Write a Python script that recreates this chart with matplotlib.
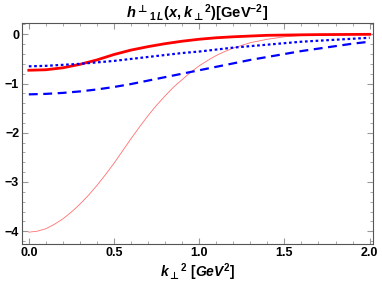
import numpy as np
import matplotlib
matplotlib.use('Agg')
import matplotlib.pyplot as plt
from matplotlib.ticker import MultipleLocator

plt.rcParams['font.family'] = ['Liberation Sans', 'DejaVu Sans']
plt.rcParams['font.weight'] = 'bold'
plt.rcParams['mathtext.fontset'] = 'custom'
plt.rcParams['mathtext.rm'] = 'Liberation Sans:bold'
plt.rcParams['mathtext.it'] = 'Liberation Sans:bold:italic'
plt.rcParams['mathtext.bf'] = 'Liberation Sans:bold'
plt.rcParams['mathtext.sf'] = 'DejaVu Sans:bold'

# k_perp^2 sample points [GeV^2]
k2 = [0.0, 0.1, 0.2, 0.3, 0.4, 0.5, 0.6, 0.7, 0.8, 0.9, 1.0, 1.1, 1.2, 1.3,
      1.4, 1.5, 1.6, 1.7, 1.8, 1.9, 2.0]

# thick red solid
red_thick = [-0.73, -0.72, -0.68, -0.61, -0.52, -0.41, -0.32, -0.25, -0.19, -0.14,
             -0.10, -0.07, -0.05, -0.035, -0.02, -0.015, -0.01, -0.006, -0.004, -0.002, 0.0]
# blue dotted
blue_dot = [-0.65, -0.64, -0.62, -0.60, -0.57, -0.54, -0.50, -0.46, -0.42, -0.38,
            -0.35, -0.31, -0.27, -0.24, -0.21, -0.18, -0.15, -0.13, -0.11, -0.09, -0.07]
# blue dashed
blue_dash = [-1.22, -1.21, -1.19, -1.16, -1.12, -1.07, -1.01, -0.94, -0.87, -0.80,
             -0.73, -0.66, -0.59, -0.52, -0.46, -0.40, -0.34, -0.29, -0.24, -0.19, -0.15]

# thin red solid (steep, read on a finer grid)
k2_thin = [0.0, 0.05, 0.1, 0.15, 0.2, 0.25, 0.3, 0.35, 0.4, 0.45, 0.5, 0.55, 0.6, 0.65,
           0.7, 0.75, 0.8, 0.85, 0.9, 0.95, 1.0, 1.05, 1.1, 1.15, 1.2, 1.3, 1.4, 1.5,
           1.6, 1.8, 2.0]
red_thin = [-4.02, -4.00, -3.95, -3.86, -3.75, -3.61, -3.45, -3.27, -3.07, -2.85, -2.62,
            -2.37, -2.12, -1.88, -1.65, -1.44, -1.25, -1.07, -0.92, -0.77, -0.64, -0.53,
            -0.43, -0.35, -0.28, -0.17, -0.10, -0.05, -0.025, -0.007, 0.0]

fig = plt.figure(figsize=(3.82, 2.90), dpi=100)
ax = fig.add_axes([22 / 382, 1 - 244 / 290, 351 / 382, 221 / 290])

ax.plot(k2_thin, red_thin, color='#ff7070', lw=0.6)
ax.plot(k2, red_thick, color='#ff0000', lw=2.0)
ax.plot(k2, blue_dot, color='#0000ff', lw=1.6, ls=(0, (1.2, 1.2)))
ax.plot(k2, blue_dash, color='#0000ff', lw=1.6, ls=(0, (4, 2.5)))

ax.set_xlim(-0.04, 2.02)
ax.set_ylim(-4.26, 0.23)
ax.xaxis.set_major_locator(MultipleLocator(0.5))
ax.xaxis.set_minor_locator(MultipleLocator(0.1))
ax.yaxis.set_major_locator(MultipleLocator(1))
ax.yaxis.set_minor_locator(MultipleLocator(0.2))
ax.tick_params(which='both', direction='in', top=True, right=True, color='#999999',
               labelsize=9, pad=2)
ax.tick_params(which='major', length=4)
ax.tick_params(which='minor', length=2)
for s in ax.spines.values():
    s.set_color('#555555')
ax.set_yticks([0, -1, -2, -3, -4])
ax.set_yticklabels(['0', '\u22121', '\u22122', '\u22123', '\u22124'])

ax.set_title(r'$h^{\mathsf{\bot}}{}_{1\,L}(x,k_{\mathsf{\bot}}{}^2)[\mathrm{GeV}^{-2}]$',
             fontsize=10.5, pad=3)
ax.set_xlabel(r'$k_{\mathsf{\bot}}{}^2\ [GeV^2]$', fontsize=10, labelpad=2)

fig.savefig('out.png', dpi=100)
